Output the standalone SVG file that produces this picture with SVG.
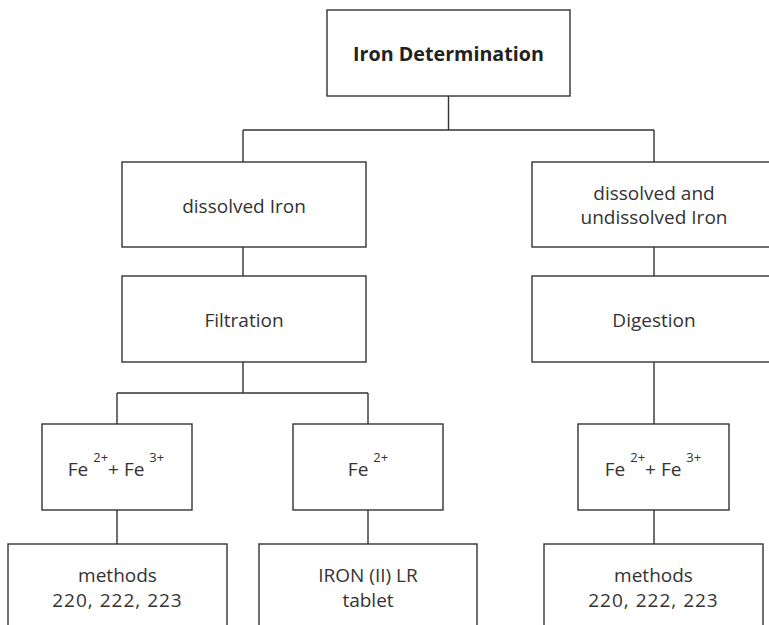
<svg xmlns="http://www.w3.org/2000/svg" width="769" height="625" viewBox="0 0 769 625">
<style>
.box{fill:#fff;stroke:#333;stroke-width:1.4}
.t{font-family:"Open Sans","Liberation Sans",sans-serif;font-size:19px;fill:#333;text-anchor:middle}
.b{font-weight:bold;font-size:19.7px;fill:#222}
.n{letter-spacing:1px}
.sup{font-size:13px}
#connectors path{fill:none;stroke:#333;stroke-width:1.4}
</style>
<rect width="769" height="625" fill="#fff"/>
<g id="connectors">
<path d="M448.5 96V130M243 130H654M243 130V162M654 130V162"/>
<path d="M243 247V276M654 247V276"/>
<path d="M243 362V393M117 393H368M117 393V424M368 393V424M654 362V424"/>
<path d="M117 510V544M368 510V544M654 510V544"/>
</g>
<g id="iron-determination">
<rect class="box" x="327" y="10" width="243" height="86"/>
<text class="t b" x="448.5" y="61">Iron Determination</text>
</g>
<g id="dissolved-iron">
<rect class="box" x="122" y="162" width="244" height="85"/>
<text class="t" x="244" y="213">dissolved Iron</text>
</g>
<g id="dissolved-undissolved">
<rect class="box" x="532" y="162" width="250" height="85"/>
<text class="t" x="654" y="200">dissolved and</text>
<text class="t" x="654" y="224">undissolved Iron</text>
</g>
<g id="filtration">
<rect class="box" x="122" y="276" width="244" height="86"/>
<text class="t" x="244" y="327">Filtration</text>
</g>
<g id="digestion">
<rect class="box" x="532" y="276" width="250" height="86"/>
<text class="t" x="654" y="327">Digestion</text>
</g>
<g id="fe23-left">
<rect class="box" x="42" y="424" width="150" height="86"/>
<text class="t" x="116" y="476">Fe <tspan class="sup" dy="-14">2+</tspan><tspan dy="14">+ Fe </tspan><tspan class="sup" dy="-14">3+</tspan></text>
</g>
<g id="fe2">
<rect class="box" x="293" y="424" width="150" height="86"/>
<text class="t" x="368" y="476">Fe <tspan class="sup" dy="-14">2+</tspan></text>
</g>
<g id="fe23-right">
<rect class="box" x="578" y="424" width="151" height="86"/>
<text class="t" x="653" y="476">Fe <tspan class="sup" dy="-14">2+</tspan><tspan dy="14">+ Fe </tspan><tspan class="sup" dy="-14">3+</tspan></text>
</g>
<g id="methods-left">
<rect class="box" x="8" y="544" width="219" height="100"/>
<text class="t" x="117.5" y="582">methods</text>
<text class="t n" x="117.5" y="607">220, 222, 223</text>
</g>
<g id="iron-ii-lr">
<rect class="box" x="259" y="544" width="218" height="100"/>
<text class="t" x="368" y="582">IRON (II) LR</text>
<text class="t" x="368" y="607">tablet</text>
</g>
<g id="methods-right">
<rect class="box" x="544" y="544" width="219" height="100"/>
<text class="t" x="653.5" y="582">methods</text>
<text class="t n" x="653.5" y="607">220, 222, 223</text>
</g>
</svg>
